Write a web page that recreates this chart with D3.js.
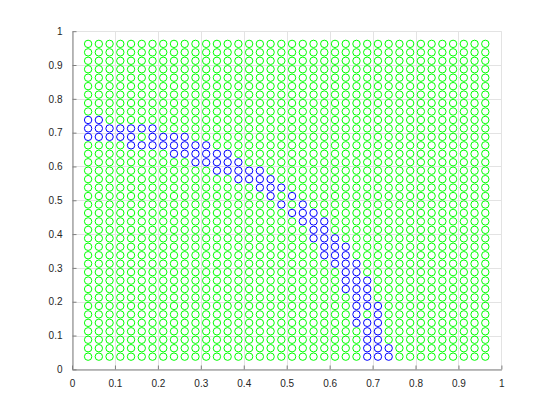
<!DOCTYPE html>
<html>
<head>
<meta charset="utf-8">
<script src="https://cdn.jsdelivr.net/npm/d3@7"></script>
<style>
  html, body { margin: 0; padding: 0; background: #fff; }
  svg { display: block; }
</style>
</head>
<body>
<script>
// ---- data ----
const gridX = [0.0375,0.0625,0.0875,0.1125,0.1375,0.1625,0.1875,0.2125,0.2375,0.2625,
               0.2875,0.3125,0.3375,0.3625,0.3875,0.4125,0.4375,0.4625,0.4875,0.5125,
               0.5375,0.5625,0.5875,0.6125,0.6375,0.6625,0.6875,0.7125,0.7375,0.7625,
               0.7875,0.8125,0.8375,0.8625,0.8875,0.9125,0.9375,0.9625];
const gridY = gridX.slice();
// blue points: row index (into gridY) -> column indices (into gridX)
const blueRows = [
  [28, [0,1]],
  [27, [0,1,2,3,4,5,6]],
  [26, [0,1,2,3,4,6,7,8,9]],
  [25, [4,5,6,7,8,9,10,11]],
  [24, [8,9,10,11,12,13]],
  [23, [10,11,12,13,14]],
  [22, [12,13,14,15,16]],
  [21, [14,15,16,17]],
  [20, [16,17,18]],
  [19, [17,19]],
  [18, [18,20]],
  [17, [19,20,21]],
  [16, [20,21,22]],
  [15, [21,22]],
  [14, [21,22,23]],
  [13, [22,23,24]],
  [12, [22,23,24]],
  [11, [23,24,25]],
  [10, [24,25]],
  [9,  [24,25,26]],
  [8,  [24,25,26]],
  [7,  [25,26]],
  [6,  [25,26,27]],
  [5,  [25,27]],
  [4,  [25,26,27]],
  [3,  [26,27]],
  [2,  [26,27]],
  [1,  [26,27,28]],
  [0,  [26,27,28]]
];
const xTicks = [0,0.1,0.2,0.3,0.4,0.5,0.6,0.7,0.8,0.9,1];
const yTicks = [0,0.1,0.2,0.3,0.4,0.5,0.6,0.7,0.8,0.9,1];
const tickLabels = ["0","0.1","0.2","0.3","0.4","0.5","0.6","0.7","0.8","0.9","1"];

(function () {
  // ---- build point table ----
  const blueSet = new Set();
  blueRows.forEach(([r, cols]) => cols.forEach(c => blueSet.add(r + "_" + c)));
  const points = [];
  gridY.forEach((yv, r) => gridX.forEach((xv, c) => {
    points.push({x: xv, y: yv, blue: blueSet.has(r + "_" + c)});
  }));

  // ---- layout ----
  const W = 554, H = 415;
  const pL = 72, pR = 501.4, pT = 31.2, pB = 369.35;

  const x = d3.scaleLinear().domain([0, 1]).range([pL, pR]);
  const y = d3.scaleLinear().domain([0, 1]).range([pB, pT]);

  const svg = d3.select("body").append("svg").attr("width", W).attr("height", H);

  // grid lines
  svg.append("g").selectAll("line").data(xTicks).join("line")
    .attr("x1", d => Math.round(x(d)) + 0.5).attr("x2", d => Math.round(x(d)) + 0.5)
    .attr("y1", pT).attr("y2", pB)
    .attr("stroke", "#e3e3e3").attr("stroke-width", 1);
  svg.append("g").selectAll("line").data(yTicks).join("line")
    .attr("y1", d => Math.round(y(d)) + 0.5).attr("y2", d => Math.round(y(d)) + 0.5)
    .attr("x1", pL).attr("x2", pR)
    .attr("stroke", "#e3e3e3").attr("stroke-width", 1);

  // points: green first then blue
  const pts = svg.append("g");
  pts.append("g").selectAll("circle").data(points.filter(p => !p.blue)).join("circle")
    .attr("cx", d => x(d.x)).attr("cy", d => y(d.y)).attr("r", 3.7)
    .attr("fill", "none").attr("stroke", "#00ff00").attr("stroke-width", 1);
  pts.append("g").selectAll("circle").data(points.filter(p => p.blue)).join("circle")
    .attr("cx", d => x(d.x)).attr("cy", d => y(d.y)).attr("r", 3.7)
    .attr("fill", "none").attr("stroke", "#0000ff").attr("stroke-width", 1);

  // axes
  const fmt = (d) => tickLabels[xTicks.indexOf(d)];
  const xAxis = d3.axisBottom(x).tickValues(xTicks).tickFormat(fmt).tickSizeInner(-4).tickSizeOuter(0).tickPadding(10);
  const yAxis = d3.axisLeft(y).tickValues(yTicks).tickFormat(fmt).tickSizeInner(-4).tickSizeOuter(0).tickPadding(10);

  const gx = svg.append("g").attr("transform", `translate(0,${Math.round(pB) + 0.5})`).call(xAxis);
  const gy = svg.append("g").attr("transform", `translate(${Math.round(pL) + 0.5},0)`).call(yAxis);

  [gx, gy].forEach(g => {
    g.select(".domain").attr("stroke", "#7f7f7f");
    g.selectAll(".tick line").attr("stroke", "#7f7f7f");
    g.selectAll(".tick text").attr("fill", "#262626")
      .style("font-family", "'Liberation Sans', Arial, sans-serif").style("font-size", "10px");
  });
})();
</script>
</body>
</html>
